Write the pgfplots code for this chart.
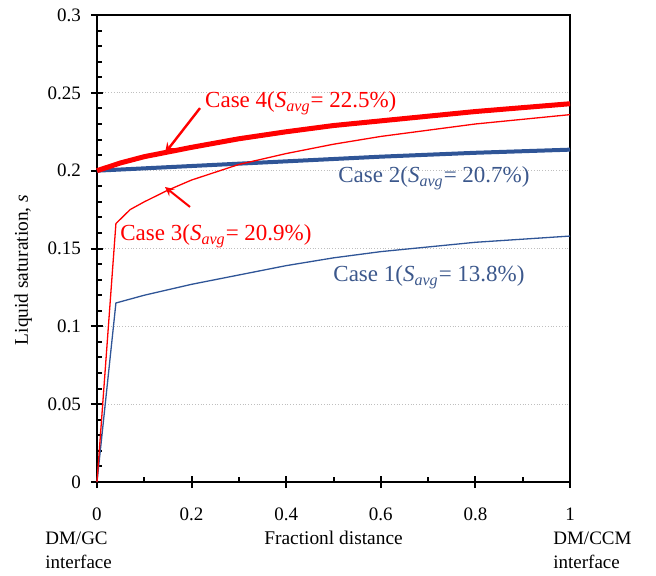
\documentclass[border=0pt]{standalone}
\usepackage{fontspec}
\setmainfont{Liberation Serif}
\usepackage{pgfplots}
\pgfplotsset{compat=1.18}
\definecolor{caseblue}{RGB}{47,85,151}
\definecolor{caseblueText}{RGB}{60,88,140}
\definecolor{casered}{RGB}{255,0,0}
\begin{document}
\begin{tikzpicture}
\begin{axis}[
    at={(0,0)}, anchor=south west,
    width=236.5pt, height=233.5pt,
    scale only axis,
    xmin=0, xmax=1, ymin=0, ymax=0.3,
    xtick={0,0.2,0.4,0.6,0.8,1},
    ytick={0,0.05,0.1,0.15,0.2,0.25,0.3},
    minor x tick num=1,
    minor y tick num=4,
    xtick pos=left, ytick pos=left,
    tick align=inside,
    major tick length=3pt, minor tick length=2.5pt,
    extra x ticks={0,0.2,0.4,0.6,0.8,1},
    extra y ticks={0,0.05,0.1,0.15,0.2,0.25,0.3},
    extra x tick labels={}, extra y tick labels={},
    extra tick style={tick align=outside, major tick length=3pt, grid=none},
    tick style={black, line width=1pt},
    axis line style={black, line width=1pt},
    ymajorgrids,
    major grid style={densely dotted, gray!50, line width=0.5pt},
    /pgf/number format/assume math mode=true,
    /pgf/number format/fixed,
    ticklabel style={font=\fontsize{9.5}{11}\selectfont},
    yticklabel style={xshift=-4.5pt},
    xticklabel style={yshift=-9.5pt},
    xlabel={Fractionl distance},
    ylabel={Liquid saturation, \textit{s}},
    label style={font=\fontsize{9.7}{11}\selectfont},
    xlabel style={at={(axis description cs:0.5,-0.12)}, anchor=center},
    ylabel style={at={(axis description cs:-0.156,0.454)}, anchor=center, rotate=0},
    clip=false,
]
% Case 1
\addplot[caseblue, line width=0.65pt] coordinates {
    (0,0) (0.04,0.115) (0.1,0.12) (0.2,0.127) (0.3,0.133) (0.4,0.139)
    (0.5,0.144) (0.6,0.148) (0.7,0.151) (0.8,0.154) (0.9,0.156) (1,0.158)
};
% Case 2
\addplot[caseblue, line width=2pt] coordinates {
    (0,0.2) (0.2,0.203) (0.4,0.206) (0.6,0.209) (0.8,0.2115) (1,0.2135)
};
% Case 3
\addplot[casered, line width=0.65pt] coordinates {
    (0,0) (0.04,0.166) (0.07,0.175) (0.1,0.18) (0.15,0.1875) (0.2,0.194)
    (0.3,0.204) (0.4,0.211) (0.5,0.217) (0.6,0.222) (0.7,0.226)
    (0.8,0.23) (0.9,0.233) (1,0.236)
};
% Case 4
\addplot[casered, line width=2.5pt] coordinates {
    (0,0.2) (0.05,0.205) (0.1,0.209) (0.15,0.212) (0.2,0.215) (0.3,0.2205)
    (0.4,0.225) (0.5,0.229) (0.6,0.232) (0.7,0.235) (0.8,0.238)
    (0.9,0.2405) (1,0.243)
};

\begin{scope}[font=\fontsize{11.5}{13}\selectfont]
\node[anchor=west, text=casered, inner sep=0pt] at (axis cs:0.228,0.2435)
    {Case 4(\textit{S}\textsubscript{\textit{avg}}= 22.5\%)};
\node[anchor=west, text=casered, inner sep=0pt] at (axis cs:0.0486,0.158)
    {Case 3(\textit{S}\textsubscript{\textit{avg}}= 20.9\%)};
\node[anchor=west, text=caseblueText, inner sep=0pt] at (axis cs:0.5095,0.1953)
    {Case 2(\textit{S}\textsubscript{\textit{avg}}= 20.7\%)};
\node[anchor=west, text=caseblueText, inner sep=0pt] at (axis cs:0.499,0.1317)
    {Case 1(\textit{S}\textsubscript{\textit{avg}}= 13.8\%)};
\end{scope}
\draw[casered, line width=1.2pt, -stealth] (axis cs:0.2178,0.2402) -- (axis cs:0.1438,0.2113);
\draw[casered, line width=1pt, -stealth] (axis cs:0.1966,0.1767) -- (axis cs:0.1438,0.1895);

\node[anchor=west, align=left, font=\fontsize{9.5}{12}\selectfont, inner sep=0pt]
    at (axis cs:-0.11,-0.0437) {DM/GC\\interface};
\node[anchor=west, align=left, font=\fontsize{9.5}{12}\selectfont, inner sep=0pt]
    at (axis cs:0.964,-0.0437) {DM/CCM\\interface};
\end{axis}
\path[use as bounding box] (-48.5pt,-46.5pt) rectangle (279.5pt,241pt);
\end{tikzpicture}
\end{document}
